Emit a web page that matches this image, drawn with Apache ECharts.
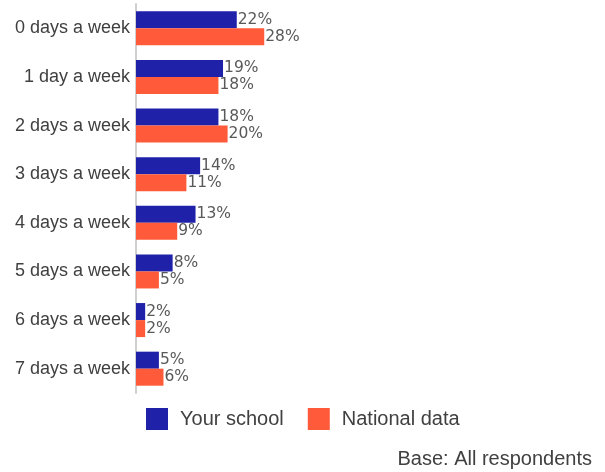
<!DOCTYPE html>
<html>
<head>
<meta charset="utf-8">
<script src="https://cdn.jsdelivr.net/npm/echarts@6/dist/echarts.min.js"></script>
<style>
  html, body { margin: 0; padding: 0; background: #fff; }
  #chart { width: 605px; height: 472px; }
</style>
</head>
<body>
<div id="chart"></div>
<script>
// Days per week categories (top to bottom)
const categories = ['0 days a week', '1 day a week', '2 days a week', '3 days a week',
                    '4 days a week', '5 days a week', '6 days a week', '7 days a week'];
// Percentages per category
const yourSchool = [22, 19, 18, 14, 13, 8, 2, 5];
const nationalData = [28, 18, 20, 11, 9, 5, 2, 6];
const seriesNames = ['Your school', 'National data'];
const footnote = 'Base: All respondents';

const chart = echarts.init(document.getElementById('chart'));

const valueLabel = {
  show: true,
  position: 'right',
  distance: 1,
  formatter: p => p.value + '%',
  color: '#595959',
  fontFamily: 'DejaVu Sans',
  fontSize: 15.5
};

chart.setOption({
  animation: false,
  grid: { left: 136, right: 11, top: 4, bottom: 79, containLabel: false },
  legend: {
    data: seriesNames,
    left: 146,
    top: 408,
    padding: 0,
    itemWidth: 22,
    itemHeight: 22,
    itemGap: 24,
    icon: 'rect',
    textStyle: { fontFamily: 'Liberation Sans', fontSize: 20, color: '#404040', padding: [0, 0, 0, 7] }
  },
  graphic: [{
    type: 'text',
    right: 13,
    top: 449,
    style: { text: footnote, font: '20px "Liberation Sans"', fill: '#404040' }
  }],
  xAxis: {
    type: 'value',
    min: 0,
    max: 100,
    show: false
  },
  yAxis: {
    type: 'category',
    data: categories,
    inverse: true,
    axisLine: { show: true, lineStyle: { color: '#d0d0d0', width: 2 } },
    axisTick: { show: false },
    axisLabel: { fontFamily: 'Liberation Sans', fontSize: 18, color: '#404040', margin: 6 }
  },
  series: [
    {
      name: seriesNames[0],
      type: 'bar',
      data: yourSchool,
      barGap: '0%',
      barCategoryGap: '30%',
      itemStyle: { color: '#1F22A8' },
      label: valueLabel
    },
    {
      name: seriesNames[1],
      type: 'bar',
      data: nationalData,
      barCategoryGap: '30%',
      itemStyle: { color: '#FF5B3A' },
      label: valueLabel
    }
  ]
});
</script>
</body>
</html>
